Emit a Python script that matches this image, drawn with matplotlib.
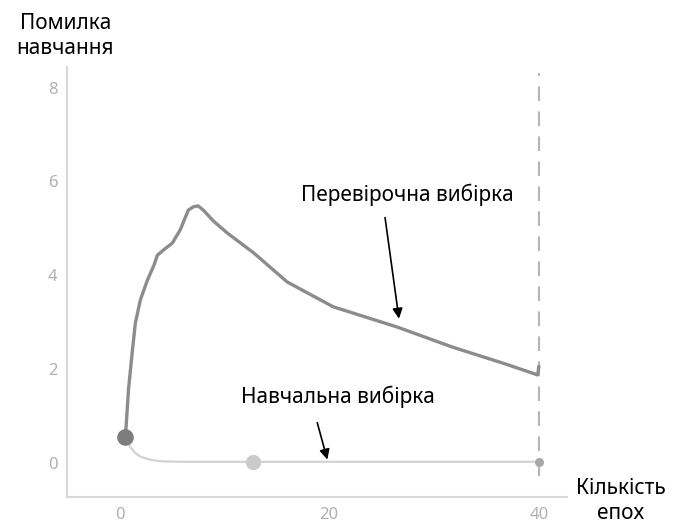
import matplotlib

matplotlib.use("Agg")
import matplotlib.pyplot as plt

# validation curve (Перевірочна вибірка)
val_x = [0.57, 0.86, 1.24, 1.52, 2.0, 2.67, 3.3, 3.62, 4.2, 5.05, 5.8, 6.57, 7.05, 7.5, 8.0,
         9.0, 10.3, 12.8, 16.0, 20.4, 26.5, 31.8, 36.6, 39.9, 40.0]
val_y = [0.55, 1.56, 2.41, 2.99, 3.48, 3.9, 4.22, 4.43, 4.54, 4.69, 4.97, 5.39, 5.46, 5.48, 5.39,
         5.15, 4.9, 4.48, 3.86, 3.33, 2.9, 2.47, 2.13, 1.88, 2.05]

# training curve (Навчальна вибірка)
train_x = [0.57, 1, 1.5, 2, 3, 4, 6, 10, 20, 30, 40]
train_y = [0.55, 0.35, 0.22, 0.14, 0.07, 0.04, 0.03, 0.03, 0.03, 0.03, 0.03]

x_ticks = [0, 20, 40]
y_ticks = [0, 2, 4, 6, 8]
stop_epoch = 40
mid_dot = (12.7, 0.03)

plt.rcParams["font.family"] = ["Noto Sans", "DejaVu Sans"]

fig = plt.figure(figsize=(6.73, 5.31), dpi=100)
ax = fig.add_axes([0.0996, 0.064, 0.743, 0.81])

ax.plot(train_x, train_y, color="#d2d2d2", lw=1.6, zorder=2)
ax.plot(val_x, val_y, color="#8c8c8c", lw=2.4, zorder=3,
        solid_joinstyle="round")
ax.axvline(stop_epoch, ymin=0.05, ymax=0.985, color="#b4b4b4", lw=1.5,
           dashes=(7, 5), zorder=1)

ax.scatter([val_x[0]], [val_y[0]], s=120, color="#7d7d7d", zorder=4)
ax.scatter([mid_dot[0]], [mid_dot[1]], s=100, color="#cbcbcb", zorder=4)
ax.scatter([stop_epoch], [train_y[-1]], s=30, color="#a8a8a8", zorder=4)

ax.set_xlim(-5, 42.7)
ax.set_ylim(-0.72, 8.44)
ax.set_xticks(x_ticks)
ax.set_yticks(y_ticks)
ax.tick_params(length=0, colors="#b0b0b0", labelsize=12, pad=7)
for side in ("top", "right"):
    ax.spines[side].set_visible(False)
for side in ("left", "bottom"):
    ax.spines[side].set_color("#d8d8d8")
    ax.spines[side].set_linewidth(1.5)

arrow = dict(arrowstyle="-|>", color="black", lw=1.2, mutation_scale=15)
ax.annotate("", xy=(26.7, 3.02), xytext=(25.3, 5.29), arrowprops=arrow)
ax.annotate("", xy=(19.9, 0.02), xytext=(18.8, 0.92), arrowprops=arrow)
ax.text(27.5, 5.72, "Перевірочна вибірка", ha="center", va="center", fontsize=15)
ax.text(20.8, 1.41, "Навчальна вибірка", ha="center", va="center", fontsize=15)

fig.text(0.097, 0.933, "Помилка\nнавчання", ha="center", va="center",
         fontsize=15, linespacing=1.25)
fig.text(0.922, 0.056, "Кількість\nепох", ha="center", va="center",
         fontsize=15, linespacing=1.25)

fig.savefig("out.png", dpi=100)
